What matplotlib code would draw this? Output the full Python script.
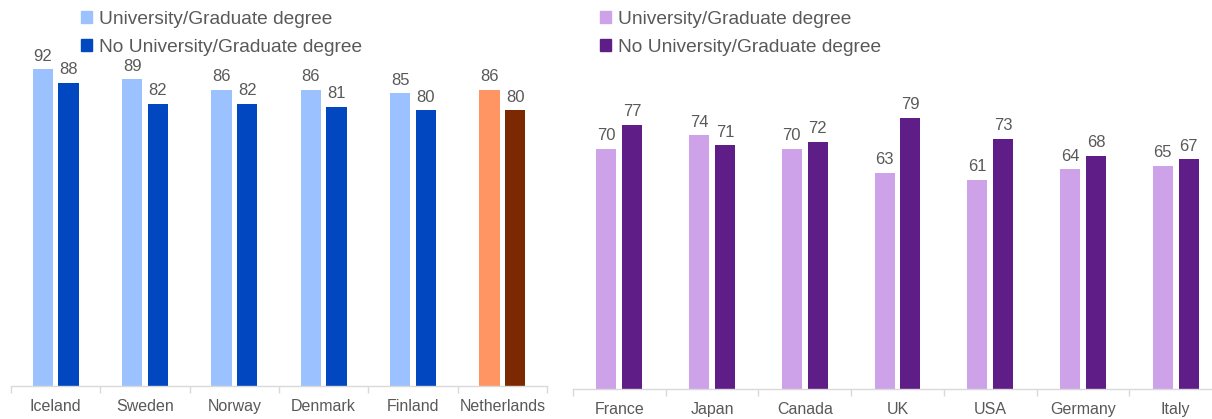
import matplotlib
matplotlib.use("Agg")
from matplotlib import pyplot as plt
from matplotlib.patches import Patch
import numpy as np

plt.rcParams['font.family'] = ['Liberation Sans', 'DejaVu Sans']

# Nordic countries + Netherlands
left_countries = ["Iceland", "Sweden", "Norway", "Denmark", "Finland", "Netherlands"]
left_uni = [92, 89, 86, 86, 85, 86]
left_no_uni = [88, 82, 82, 81, 80, 80]

# other large economies
right_countries = ["France", "Japan", "Canada", "UK", "USA", "Germany", "Italy"]
right_uni = [70, 74, 70, 63, 61, 64, 65]
right_no_uni = [77, 71, 72, 79, 73, 68, 67]

series_names = ["University/Graduate degree", "No University/Graduate degree"]

GREY = "#595959"
AXIS = "#d9d9d9"


def draw_panel(ax, countries, uni, no_uni, c_light, c_dark, offset, width, highlight=None):
    x = np.arange(len(countries))
    light = [c_light] * len(countries)
    dark = [c_dark] * len(countries)
    if highlight:
        idx = countries.index(highlight[0])
        light[idx] = highlight[1]
        dark[idx] = highlight[2]
    b1 = ax.bar(x - offset, uni, width=width, color=light)
    b2 = ax.bar(x + offset, no_uni, width=width, color=dark)
    for bars in (b1, b2):
        for b in bars:
            ax.annotate(f"{b.get_height():.0f}", (b.get_x() + b.get_width() / 2, b.get_height()),
                        xytext=(0, 4), textcoords="offset points", ha="center", va="bottom",
                        fontsize=12, color=GREY)
    ax.set_xlim(-0.5, len(countries) - 0.5)
    ax.set_ylim(0, 100)
    ax.set_xticks(x)
    ax.set_xticklabels(countries, fontsize=11.5, color=GREY)
    ax.set_xticks(np.arange(len(countries) + 1) - 0.5, minor=True)
    ax.tick_params(axis="x", which="major", length=0, pad=9)
    ax.tick_params(axis="x", which="minor", length=5, color=AXIS, width=1)
    ax.set_yticks([])
    for s in ("top", "right", "left"):
        ax.spines[s].set_visible(False)
    ax.spines["bottom"].set_color(AXIS)
    ax.spines["bottom"].set_linewidth(1)


fig = plt.figure(figsize=(12.12, 4.19), dpi=100)
W, H = 1212, 419

ax1 = fig.add_axes([11 / W, 33 / H, 536 / W, 344.5 / H])
draw_panel(ax1, left_countries, left_uni, left_no_uni, "#9bc2ff", "#0047c0",
           0.143, 0.23, highlight=("Netherlands", "#ff9562", "#7c2800"))

ax2 = fig.add_axes([573 / W, 30 / H, 649 / W, 343 / H])
draw_panel(ax2, right_countries, right_uni, right_no_uni, "#cda2e9", "#5e1d87", 0.14, 0.216)

for left_px, c_light, c_dark in ((81, "#9bc2ff", "#0047c0"), (600, "#cda2e9", "#5e1d87")):
    handles = [Patch(color=c_light), Patch(color=c_dark)]
    fig.legend(handles, series_names, loc="upper left",
               bbox_to_anchor=(left_px / W, 1 - 11 / H), frameon=False,
               fontsize=13.8, labelcolor=GREY, handlelength=0.55, handleheight=0.55,
               handletextpad=0.4, labelspacing=0.56, borderpad=0, borderaxespad=0)

fig.savefig("out.png", dpi=100)
